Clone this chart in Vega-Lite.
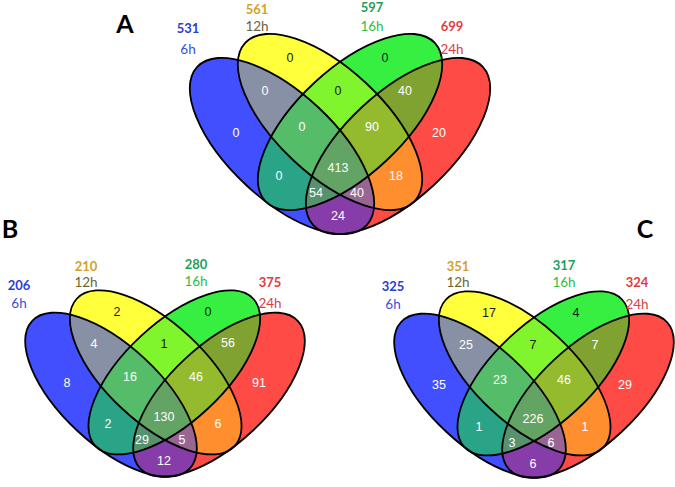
{
  "$schema": "https://vega.github.io/schema/vega-lite/v6.json",
  "width": 675,
  "height": 487,
  "padding": 0,
  "autosize": {"type": "none"},
  "background": "white",
  "config": {"view": {"stroke": null}},
  "datasets": {
    "ell": [
      {"panel": "A", "set": "6h", "cx": 282, "cy": 146},
      {"panel": "A", "set": "12h", "cx": 330, "cy": 122},
      {"panel": "A", "set": "16h", "cx": 350, "cy": 122},
      {"panel": "A", "set": "24h", "cx": 398, "cy": 146},
      {"panel": "B", "set": "6h", "cx": 111, "cy": 394.7},
      {"panel": "B", "set": "12h", "cx": 155.7, "cy": 372.4},
      {"panel": "B", "set": "16h", "cx": 174.3, "cy": 372.4},
      {"panel": "B", "set": "24h", "cx": 219, "cy": 394.7},
      {"panel": "C", "set": "6h", "cx": 480, "cy": 395.7},
      {"panel": "C", "set": "12h", "cx": 524.7, "cy": 373.4},
      {"panel": "C", "set": "16h", "cx": 543.3, "cy": 373.4},
      {"panel": "C", "set": "24h", "cx": 588, "cy": 395.7}
    ],
    "regions": [
      {"panel": "A", "region": "B", "x": 236, "y": 133, "n": "0"},
      {"panel": "A", "region": "Y", "x": 290, "y": 58, "n": "0"},
      {"panel": "A", "region": "G", "x": 385, "y": 58, "n": "0"},
      {"panel": "A", "region": "R", "x": 439, "y": 133, "n": "20"},
      {"panel": "A", "region": "BY", "x": 265, "y": 91, "n": "0"},
      {"panel": "A", "region": "YG", "x": 338, "y": 91, "n": "0"},
      {"panel": "A", "region": "GR", "x": 405, "y": 91, "n": "40"},
      {"panel": "A", "region": "BYG", "x": 302, "y": 127, "n": "0"},
      {"panel": "A", "region": "YGR", "x": 372, "y": 127, "n": "90"},
      {"panel": "A", "region": "BG", "x": 279, "y": 176, "n": "0"},
      {"panel": "A", "region": "BYGR", "x": 338, "y": 168, "n": "413"},
      {"panel": "A", "region": "YR", "x": 396, "y": 176, "n": "18"},
      {"panel": "A", "region": "BGR", "x": 316, "y": 193, "n": "54"},
      {"panel": "A", "region": "BYR", "x": 357, "y": 193, "n": "40"},
      {"panel": "A", "region": "BR", "x": 338, "y": 216, "n": "24"},
      {"panel": "B", "region": "B", "x": 67, "y": 383, "n": "8"},
      {"panel": "B", "region": "Y", "x": 117, "y": 312, "n": "2"},
      {"panel": "B", "region": "G", "x": 208, "y": 312, "n": "0"},
      {"panel": "B", "region": "R", "x": 259, "y": 383, "n": "91"},
      {"panel": "B", "region": "BY", "x": 94, "y": 344, "n": "4"},
      {"panel": "B", "region": "YG", "x": 164, "y": 344, "n": "1"},
      {"panel": "B", "region": "GR", "x": 228, "y": 343, "n": "56"},
      {"panel": "B", "region": "BYG", "x": 130, "y": 377, "n": "16"},
      {"panel": "B", "region": "YGR", "x": 196, "y": 377, "n": "46"},
      {"panel": "B", "region": "BG", "x": 108, "y": 424, "n": "2"},
      {"panel": "B", "region": "BYGR", "x": 164, "y": 417, "n": "130"},
      {"panel": "B", "region": "YR", "x": 218, "y": 424, "n": "6"},
      {"panel": "B", "region": "BGR", "x": 142, "y": 440, "n": "29"},
      {"panel": "B", "region": "BYR", "x": 182, "y": 440, "n": "5"},
      {"panel": "B", "region": "BR", "x": 164, "y": 461, "n": "12"},
      {"panel": "C", "region": "B", "x": 439, "y": 385, "n": "35"},
      {"panel": "C", "region": "Y", "x": 489, "y": 313, "n": "17"},
      {"panel": "C", "region": "G", "x": 576, "y": 313, "n": "4"},
      {"panel": "C", "region": "R", "x": 625, "y": 385, "n": "29"},
      {"panel": "C", "region": "BY", "x": 466, "y": 345, "n": "25"},
      {"panel": "C", "region": "YG", "x": 533, "y": 345, "n": "7"},
      {"panel": "C", "region": "GR", "x": 595, "y": 345, "n": "7"},
      {"panel": "C", "region": "BYG", "x": 500, "y": 380, "n": "23"},
      {"panel": "C", "region": "YGR", "x": 564, "y": 380, "n": "46"},
      {"panel": "C", "region": "BG", "x": 479, "y": 427, "n": "1"},
      {"panel": "C", "region": "BYGR", "x": 533, "y": 419, "n": "226"},
      {"panel": "C", "region": "YR", "x": 585, "y": 427, "n": "1"},
      {"panel": "C", "region": "BGR", "x": 512, "y": 443, "n": "3"},
      {"panel": "C", "region": "BYR", "x": 551, "y": 443, "n": "6"},
      {"panel": "C", "region": "BR", "x": 533, "y": 464, "n": "6"}
    ],
    "setlabels": [
      {"panel": "A", "set": "6h", "x": 188, "y": 29, "count": "531", "ty": 50},
      {"panel": "A", "set": "12h", "x": 257, "y": 10, "count": "561", "ty": 27},
      {"panel": "A", "set": "16h", "x": 372, "y": 8, "count": "597", "ty": 27},
      {"panel": "A", "set": "24h", "x": 452, "y": 27, "count": "699", "ty": 50},
      {"panel": "B", "set": "6h", "x": 19, "y": 286, "count": "206", "ty": 304},
      {"panel": "B", "set": "12h", "x": 86, "y": 267, "count": "210", "ty": 283},
      {"panel": "B", "set": "16h", "x": 196, "y": 265, "count": "280", "ty": 282},
      {"panel": "B", "set": "24h", "x": 270, "y": 283, "count": "375", "ty": 304},
      {"panel": "C", "set": "6h", "x": 393, "y": 287, "count": "325", "ty": 305},
      {"panel": "C", "set": "12h", "x": 458, "y": 267, "count": "351", "ty": 283},
      {"panel": "C", "set": "16h", "x": 564, "y": 266, "count": "317", "ty": 283},
      {"panel": "C", "set": "24h", "x": 637, "y": 283, "count": "324", "ty": 305}
    ],
    "titles": [
      {"t": "A", "x": 125, "y": 25},
      {"t": "B", "x": 10, "y": 230},
      {"t": "C", "x": 645, "y": 230}
    ]
  },
  "resolve": {"scale": {"color": "independent"}},
  "layer": [
    {
      "data": {"name": "ell"},
      "transform": [{"calculate": "indexof(['16h','6h','24h','12h'], datum.set)", "as": "z"}],
      "mark": {"type": "point", "filled": true, "opacity": 1, "fillOpacity": 0.45, "strokeWidth": 0},
      "encoding": {
        "x": {"field": "cx", "type": "quantitative", "scale": {"domain": [0, 675], "nice": false, "zero": false}, "axis": null},
        "y": {"field": "cy", "type": "quantitative", "scale": {"domain": [0, 487], "nice": false, "zero": false, "reverse": true}, "axis": null},
        "fill": {"field": "set", "type": "nominal", "scale": {"domain": ["6h", "12h", "16h", "24h"], "range": ["#2E3EFF", "#FFFF28", "#23EE2E", "#FF3933"]}, "legend": null},
        "shape": {"condition": {"test": "datum.set === '6h' || datum.set === '12h'", "value": "M0.731,0.682 C0.559,0.867 0.092,0.711 -0.312,0.334 C-0.716,-0.043 -0.903,-0.498 -0.731,-0.682 C-0.559,-0.867 -0.092,-0.711 0.312,-0.334 C0.716,0.043 0.903,0.498 0.731,0.682 Z"}, "value": "M-0.731,0.682 C-0.559,0.867 -0.092,0.711 0.312,0.334 C0.716,-0.043 0.903,-0.498 0.731,-0.682 C0.559,-0.867 0.092,-0.711 -0.312,-0.334 C-0.716,0.043 -0.903,0.498 -0.731,0.682 Z"},
        "size": {"condition": {"test": "datum.panel === 'A'", "value": 53824}, "value": 46656},
        "order": {"field": "z", "type": "quantitative", "sort": "ascending"}
      }
    },
    {
      "data": {"name": "ell"},
      "transform": [{"calculate": "indexof(['16h','6h','24h','12h'], datum.set)", "as": "z"}],
      "mark": {"type": "point", "filled": true, "opacity": 1, "fillOpacity": 0.45, "strokeWidth": 0},
      "encoding": {
        "x": {"field": "cx", "type": "quantitative", "axis": null},
        "y": {"field": "cy", "type": "quantitative", "axis": null},
        "fill": {"field": "set", "type": "nominal", "legend": null},
        "shape": {"condition": {"test": "datum.set === '6h' || datum.set === '12h'", "value": "M0.731,0.682 C0.559,0.867 0.092,0.711 -0.312,0.334 C-0.716,-0.043 -0.903,-0.498 -0.731,-0.682 C-0.559,-0.867 -0.092,-0.711 0.312,-0.334 C0.716,0.043 0.903,0.498 0.731,0.682 Z"}, "value": "M-0.731,0.682 C-0.559,0.867 -0.092,0.711 0.312,0.334 C0.716,-0.043 0.903,-0.498 0.731,-0.682 C0.559,-0.867 0.092,-0.711 -0.312,-0.334 C-0.716,0.043 -0.903,0.498 -0.731,0.682 Z"},
        "size": {"condition": {"test": "datum.panel === 'A'", "value": 53824}, "value": 46656},
        "order": {"field": "z", "type": "quantitative", "sort": "descending"}
      }
    },
    {
      "data": {"name": "ell"},
      "transform": [{"calculate": "indexof(['16h','6h','24h','12h'], datum.set)", "as": "z"}],
      "mark": {"type": "point", "filled": true, "opacity": 1, "fillOpacity": 0.45, "strokeWidth": 0},
      "encoding": {
        "x": {"field": "cx", "type": "quantitative", "axis": null},
        "y": {"field": "cy", "type": "quantitative", "axis": null},
        "fill": {"field": "set", "type": "nominal", "legend": null},
        "shape": {"condition": {"test": "datum.set === '6h' || datum.set === '12h'", "value": "M0.731,0.682 C0.559,0.867 0.092,0.711 -0.312,0.334 C-0.716,-0.043 -0.903,-0.498 -0.731,-0.682 C-0.559,-0.867 -0.092,-0.711 0.312,-0.334 C0.716,0.043 0.903,0.498 0.731,0.682 Z"}, "value": "M-0.731,0.682 C-0.559,0.867 -0.092,0.711 0.312,0.334 C0.716,-0.043 0.903,-0.498 0.731,-0.682 C0.559,-0.867 0.092,-0.711 -0.312,-0.334 C-0.716,0.043 -0.903,0.498 -0.731,0.682 Z"},
        "size": {"condition": {"test": "datum.panel === 'A'", "value": 53824}, "value": 46656},
        "order": {"field": "z", "type": "quantitative", "sort": "ascending"}
      }
    },
    {
      "data": {"name": "ell"},
      "transform": [{"calculate": "indexof(['16h','6h','24h','12h'], datum.set)", "as": "z"}],
      "mark": {"type": "point", "filled": true, "opacity": 1, "fillOpacity": 0.45, "strokeWidth": 0},
      "encoding": {
        "x": {"field": "cx", "type": "quantitative", "axis": null},
        "y": {"field": "cy", "type": "quantitative", "axis": null},
        "fill": {"field": "set", "type": "nominal", "legend": null},
        "shape": {"condition": {"test": "datum.set === '6h' || datum.set === '12h'", "value": "M0.731,0.682 C0.559,0.867 0.092,0.711 -0.312,0.334 C-0.716,-0.043 -0.903,-0.498 -0.731,-0.682 C-0.559,-0.867 -0.092,-0.711 0.312,-0.334 C0.716,0.043 0.903,0.498 0.731,0.682 Z"}, "value": "M-0.731,0.682 C-0.559,0.867 -0.092,0.711 0.312,0.334 C0.716,-0.043 0.903,-0.498 0.731,-0.682 C0.559,-0.867 0.092,-0.711 -0.312,-0.334 C-0.716,0.043 -0.903,0.498 -0.731,0.682 Z"},
        "size": {"condition": {"test": "datum.panel === 'A'", "value": 53824}, "value": 46656},
        "order": {"field": "z", "type": "quantitative", "sort": "descending"}
      }
    },
    {
      "data": {"name": "ell"},
      "mark": {"type": "point", "filled": false, "opacity": 1, "fill": null, "stroke": "#000000", "strokeWidth": 1.8},
      "encoding": {
        "x": {"field": "cx", "type": "quantitative", "axis": null},
        "y": {"field": "cy", "type": "quantitative", "axis": null},
        "shape": {"condition": {"test": "datum.set === '6h' || datum.set === '12h'", "value": "M0.731,0.682 C0.559,0.867 0.092,0.711 -0.312,0.334 C-0.716,-0.043 -0.903,-0.498 -0.731,-0.682 C-0.559,-0.867 -0.092,-0.711 0.312,-0.334 C0.716,0.043 0.903,0.498 0.731,0.682 Z"}, "value": "M-0.731,0.682 C-0.559,0.867 -0.092,0.711 0.312,0.334 C0.716,-0.043 0.903,-0.498 0.731,-0.682 C0.559,-0.867 0.092,-0.711 -0.312,-0.334 C-0.716,0.043 -0.903,0.498 -0.731,0.682 Z"},
        "size": {"condition": {"test": "datum.panel === 'A'", "value": 53824}, "value": 46656}
      }
    },
    {
      "data": {"name": "regions"},
      "mark": {"type": "text", "font": "Liberation Sans", "fontSize": 12.5, "align": "center", "baseline": "middle"},
      "encoding": {
        "x": {"field": "x", "type": "quantitative", "axis": null},
        "y": {"field": "y", "type": "quantitative", "axis": null},
        "text": {"field": "n", "type": "nominal"},
        "color": {"condition": {"test": "datum.region === 'Y' || datum.region === 'G' || datum.region === 'YG'", "value": "#1a1a1a"}, "value": "#ffffff"}
      }
    },
    {
      "data": {"name": "setlabels"},
      "mark": {"type": "text", "font": "Lato", "fontWeight": "bold", "fontSize": 13, "align": "center", "baseline": "middle"},
      "encoding": {
        "x": {"field": "x", "type": "quantitative", "axis": null},
        "y": {"field": "y", "type": "quantitative", "axis": null},
        "text": {"field": "count", "type": "nominal"},
        "color": {"field": "set", "type": "nominal", "scale": {"domain": ["6h", "12h", "16h", "24h"], "range": ["#2b3fd0", "#d4a12a", "#1f9e5a", "#e23b3b"]}, "legend": null}
      }
    },
    {
      "data": {"name": "setlabels"},
      "mark": {"type": "text", "font": "Lato", "fontSize": 13.5, "align": "center", "baseline": "middle"},
      "encoding": {
        "x": {"field": "x", "type": "quantitative", "axis": null},
        "y": {"field": "ty", "type": "quantitative", "axis": null},
        "text": {"field": "set", "type": "nominal"},
        "color": {"field": "set", "type": "nominal", "scale": {"domain": ["6h", "12h", "16h", "24h"], "range": ["#3a4fd8", "#6b6535", "#2dbe4a", "#d9413f"]}, "legend": null}
      }
    },
    {
      "data": {"name": "titles"},
      "mark": {"type": "text", "font": "Lato", "fontWeight": "bold", "fontSize": 25, "align": "center", "baseline": "middle", "color": "#000000"},
      "encoding": {
        "x": {"field": "x", "type": "quantitative", "axis": null},
        "y": {"field": "y", "type": "quantitative", "axis": null},
        "text": {"field": "t", "type": "nominal"}
      }
    }
  ]
}
